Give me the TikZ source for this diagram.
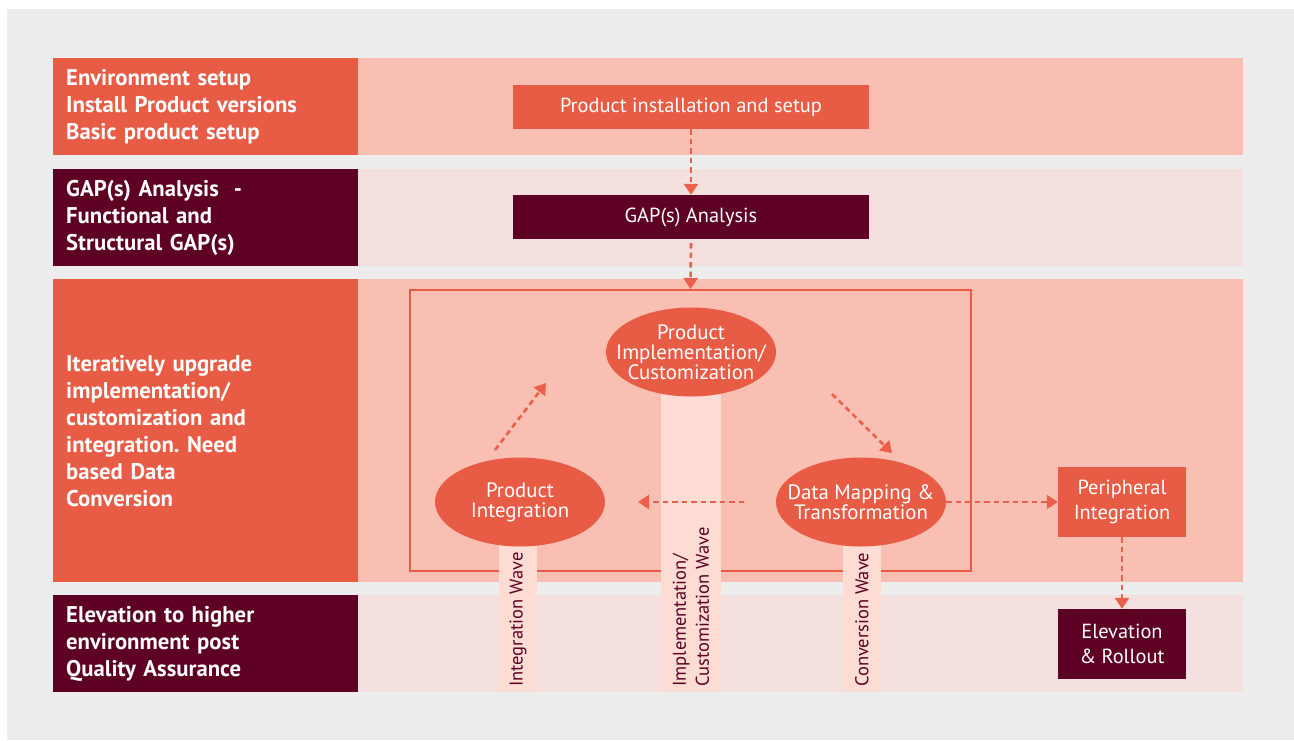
\documentclass[tikz,border=0pt]{standalone}
\usepackage{fontspec}
\setmainfont{PT Sans}
\usetikzlibrary{arrows.meta,shapes.geometric}
\definecolor{bggray}{HTML}{EDEDED}
\definecolor{orng}{HTML}{E85C45}
\definecolor{lorng}{HTML}{F9BFB2}
\definecolor{maroonc}{HTML}{5E0023}
\definecolor{lpink}{HTML}{F4E1DF}
\definecolor{pillarc}{HTML}{FDDDD3}
\definecolor{arrc}{HTML}{EA604A}
\newcommand{\elltext}[1]{\makebox[0pt]{\parbox{220pt}{\centering\fontsize{20.8}{20}\selectfont #1}}}
\begin{document}
\frenchspacing
\begin{tikzpicture}[x=1pt,y=-1pt,
  lbl/.style={rectangle, minimum width=305pt, minimum height=97pt, text width=279pt, inner xsep=13pt, inner ysep=0pt, align=left, text=white, font=\frenchspacing\fontsize{22.7}{27}\selectfont\bfseries, anchor=north west},
  band/.style={rectangle, minimum width=885pt, minimum height=97pt, inner sep=0pt, anchor=north west},
  boxo/.style={rectangle, fill=orng, text=white, inner sep=0pt, align=center, font=\fontsize{20.4}{25}\selectfont},
  ell/.style={ellipse, fill=orng, text=white, inner sep=0pt, minimum width=170pt, minimum height=89pt},
  pil/.style={rectangle, fill=pillarc, inner sep=0pt, anchor=north},
  piltxt/.style={rotate=90, anchor=west, inner sep=0pt, align=left, text=maroonc, font=\fontsize{18.5}{23}\selectfont},
  flow/.style={draw=arrc, line width=2.6pt, dash pattern=on 5.5pt off 4pt, -{Triangle[length=11pt,width=14pt]}}
]
\fill[white] (0,0) rectangle (1294,740);
\useasboundingbox (0,0) rectangle (1294,740);
\fill[bggray] (7,9) rectangle (1294,740);

% bands
\node[band, fill=lorng] (b1) at (358,58) {};
\node[band, fill=lpink] (b2) at (358,169) {};
\node[band, fill=lorng, minimum height=303pt] (b3) at (358,279) {};
\node[band, fill=lpink] (b4) at (358,595) {};

% labels
\node[lbl, fill=orng] (l1) at (53,58) {Environment setup\\Install Product versions\\Basic product setup};
\node[lbl, fill=maroonc] (l2) at (53,169) {GAP(s) Analysis\ \ -\\Functional and\\Structural GAP(s)};
\node[lbl, fill=orng, minimum height=303pt] (l3) at (53,279) {Iteratively upgrade\\implementation/\\customization and\\integration. Need\\based Data\\Conversion};
\node[lbl, fill=maroonc] (l4) at (53,595) {Elevation to higher\\environment post\\Quality Assurance};

% top boxes
\node[boxo, minimum width=356pt, minimum height=44pt] (inst) at (691,107) {Product installation and setup};
\node[boxo, fill=maroonc, minimum width=356pt, minimum height=44pt] (gap) at (691,217) {GAP(s) Analysis};

% loop frame
\node[draw=orng, line width=2pt, rectangle, minimum width=561pt, minimum height=281pt, inner sep=0pt] (loop) at (690.5,430.5) {};

% pillars
\node[pil, minimum width=38pt, minimum height=189pt] (p1) at (518,502) {};
\node[pil, minimum width=60pt, minimum height=339pt] (p2) at (691,352) {};
\node[pil, minimum width=38pt, minimum height=189pt] (p3) at (862,502) {};

\node[piltxt] (t1) at (518,687) {Integration Wave};
\node[piltxt] (t2) at (691,687) {Implementation/\\Customization Wave};
\node[piltxt] (t3) at (862,687) {Conversion Wave};

% ellipses
\node[ell] (impl) at (691,352) {\elltext{Product\\Implementation/\\Customization}};
\node[ell] (pint) at (520,502) {\elltext{Product\\Integration}};
\node[ell] (dmap) at (861,502) {\elltext{Data Mapping \&\\Transformation}};

% right boxes
\node[boxo, minimum width=128pt, minimum height=70pt] (peri) at (1122,502) {Peripheral\\Integration};
\node[boxo, fill=maroonc, minimum width=128pt, minimum height=70pt] (elev) at (1122,644) {Elevation\\\&\ Rollout};

% connector coordinates
\coordinate (c1a) at (495,450);
\coordinate (c1b) at (546,383);
\coordinate (c2a) at (832,394);
\coordinate (c2b) at (892,453);
\coordinate (c3a) at (744,502);
\coordinate (c3b) at (638,502);

% connectors
\draw[flow] (inst.south) -- (gap.north);
\draw[flow] ([yshift=-4pt]gap.south) -- (loop.north);
\draw[flow] (c1a) -- (c1b);
\draw[flow] (c2a) -- (c2b);
\draw[flow] (c3a) -- (c3b);
\draw[flow] (dmap.east) -- (peri.west);
\draw[flow] (peri.south) -- (elev.north);
\end{tikzpicture}
\end{document}
